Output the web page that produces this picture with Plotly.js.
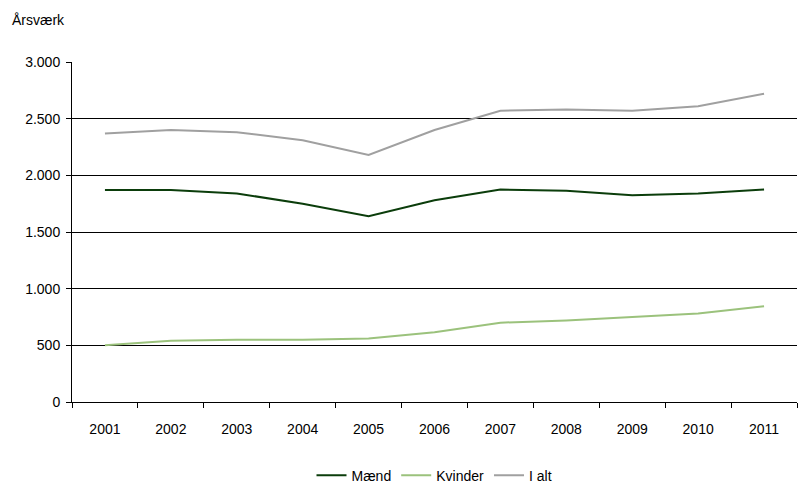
<!DOCTYPE html>
<html>
<head>
<meta charset="utf-8">
<script src="https://cdn.plot.ly/plotly-3.0.1.min.js"></script>
<style>body{margin:0}#chart{width:800px;height:483px}</style>
</head>
<body>
<div id="chart"></div>
<script>
const years = ['2001','2002','2003','2004','2005','2006','2007','2008','2009','2010','2011'];
const maend = [1870, 1870, 1840, 1750, 1640, 1780, 1875, 1865, 1825, 1840, 1875];
const kvinder = [500, 540, 550, 550, 560, 615, 700, 720, 750, 780, 845];
const ialt = [2370, 2400, 2380, 2310, 2180, 2400, 2570, 2580, 2570, 2610, 2720];

const traces = [
  {x: years, y: maend, name: 'Mænd', mode: 'lines', line: {color: '#0b3d0b', width: 2}},
  {x: years, y: kvinder, name: 'Kvinder', mode: 'lines', line: {color: '#9bc27c', width: 2}},
  {x: years, y: ialt, name: 'I alt', mode: 'lines', line: {color: '#a0a0a0', width: 2}}
];

Plotly.newPlot('chart', traces, {
  width: 800, height: 483,
  margin: {l: 72, r: 3, t: 62, b: 81, autoexpand: false},
  separators: ',.',
  font: {family: 'Liberation Sans, Arial, sans-serif', size: 14, color: '#000'},
  paper_bgcolor: '#fff', plot_bgcolor: '#fff',
  showlegend: true,
  legend: {orientation: 'h', x: 0.5, xanchor: 'center', yref: 'container', y: 0.015, yanchor: 'middle', font: {size: 14}},
  annotations: [{text: 'Årsværk', xref: 'paper', yref: 'paper', x: -0.0855, y: 1.1235, xanchor: 'left', yanchor: 'middle', showarrow: false, font: {size: 14}}],
  xaxis: {type: 'category', range: [-0.5, 10.5], showgrid: false, showline: true, linecolor: '#000', ticks: 'outside', tickson: 'boundaries', ticklen: 5, tickcolor: '#000', ticklabelstandoff: 14},
  yaxis: {range: [0, 3000], dtick: 500, tickformat: ',d', showgrid: true, gridcolor: '#000', gridwidth: 0.6, showline: true, linecolor: '#000', ticks: 'outside', ticklen: 5, tickcolor: '#000', zeroline: false, ticklabelstandoff: 3}
}, {displayModeBar: false});
</script>
</body>
</html>
